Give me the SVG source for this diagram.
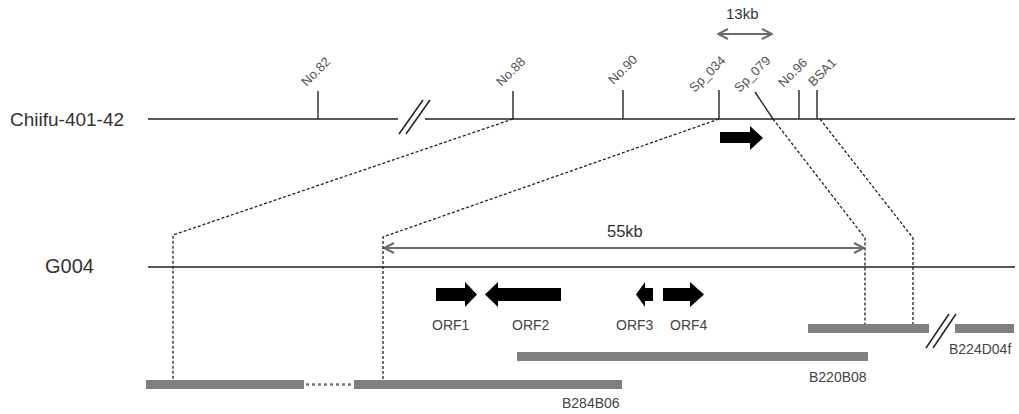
<svg xmlns="http://www.w3.org/2000/svg" width="1019" height="414" viewBox="0 0 1019 414">
<style>
text{font-family:"Liberation Sans",Arial,sans-serif;}
.big{font-size:19px;fill:#333;}
.lab{font-size:13px;fill:#555;}
.sm{font-size:14px;fill:#444;}
.kb{font-size:15px;fill:#333;}
.main{stroke:#222;stroke-width:1.5;fill:none;}
.tick{stroke:#333;stroke-width:1.5;fill:none;}
.dash{stroke:#222;stroke-width:1.3;fill:none;stroke-dasharray:3 2;}
.dot{stroke:#777;stroke-width:2.5;fill:none;stroke-dasharray:3 3;}
.bar{fill:#808080;}
.blk{fill:#000;}
.dim{stroke:#6a6a6a;stroke-width:2.2;fill:none;}
</style>
<defs>
<marker id="ah" viewBox="0 0 12 12" refX="11" refY="6" markerWidth="12" markerHeight="12" markerUnits="userSpaceOnUse" orient="auto-start-reverse">
<path d="M1,1 L11,6 L1,11" fill="none" stroke="#6a6a6a" stroke-width="2"/>
</marker>
</defs>
<g id="chiifu">
<text class="big" x="10" y="125.5">Chiifu-401-42</text>
<line class="main" x1="148" y1="119" x2="398" y2="119"/>
<line class="main" x1="425" y1="119" x2="1015" y2="119"/>
<line class="main" x1="399" y1="134" x2="423" y2="100"/>
<line class="main" x1="406" y1="134" x2="430" y2="100"/>
</g>
<g id="g004">
<text class="big" x="45" y="273" style="font-size:20px">G004</text>
<line class="main" x1="148" y1="267" x2="1015" y2="267"/>
</g>
<g id="markers">
<line class="tick" x1="318" y1="91" x2="318" y2="119"/>
<text class="lab" transform="translate(306.6,87) rotate(-45)">No.82</text>
<line class="tick" x1="513" y1="91" x2="513" y2="119"/>
<text class="lab" transform="translate(501.6,87) rotate(-45)">No.88</text>
<line class="tick" x1="623" y1="90" x2="623" y2="119"/>
<text class="lab" transform="translate(613.6,85) rotate(-45)">No.90</text>
<line class="tick" x1="719" y1="90" x2="719" y2="119"/>
<text class="lab" transform="translate(694.6,93) rotate(-45)">Sp_034</text>
<line class="tick" x1="755" y1="92" x2="773" y2="119"/>
<text class="lab" transform="translate(739.6,93) rotate(-45)">Sp_079</text>
<line class="tick" x1="799" y1="90" x2="799" y2="119"/>
<text class="lab" transform="translate(783.6,88) rotate(-45)">No.96</text>
<line class="tick" x1="817" y1="90" x2="817" y2="119"/>
<text class="lab" transform="translate(813.6,87) rotate(-45)">BSA1</text>
</g>
<g id="dim13">
<line class="dim" x1="718" y1="34" x2="772" y2="34" marker-start="url(#ah)" marker-end="url(#ah)"/>
<text class="kb" x="726" y="19">13kb</text>
</g>
<g id="dim55">
<line class="dim" x1="384" y1="248" x2="864" y2="248" marker-start="url(#ah)" marker-end="url(#ah)"/>
<text class="kb" x="607" y="237" style="font-size:16.5px">55kb</text>
</g>
<g id="gene-chiifu">
<polygon class="blk" points="720,132 750,132 750,126 763,138 750,150 750,143 720,143"/>
</g>
<g id="orf1">
<polygon class="blk" points="436,288 465,288 465,282 477,294.5 465,307 465,301 436,301"/>
<text class="sm" x="432" y="330">ORF1</text>
</g>
<g id="orf2">
<polygon class="blk" points="561,288 498,288 498,282 485,294.5 498,307 498,301 561,301"/>
<text class="sm" x="512" y="330">ORF2</text>
</g>
<g id="orf3">
<polygon class="blk" points="653,288 645,288 645,282 636,294.5 645,307 645,301 653,301"/>
<text class="sm" x="616" y="330">ORF3</text>
</g>
<g id="orf4">
<polygon class="blk" points="663,288 690,288 690,282 704,294.5 690,307 690,301 663,301"/>
<text class="sm" x="670" y="330">ORF4</text>
</g>
<g id="B284B06">
<rect class="bar" x="146" y="380" width="158" height="9"/>
<rect class="bar" x="354" y="380" width="268" height="9"/>
<line class="dot" x1="306" y1="384.5" x2="353" y2="384.5"/>
<text class="sm" x="562" y="408">B284B06</text>
</g>
<g id="B220B08">
<rect class="bar" x="517" y="352" width="351" height="9"/>
<text class="sm" x="809" y="382">B220B08</text>
</g>
<g id="B224D04f">
<rect class="bar" x="808" y="324" width="121" height="9"/>
<rect class="bar" x="955" y="324" width="59" height="9"/>
<line class="main" x1="926" y1="348" x2="949" y2="314"/>
<line class="main" x1="933" y1="348" x2="956" y2="314"/>
<text class="sm" x="949" y="354">B224D04f</text>
</g>
<g id="connectors">
<polyline class="dash" points="513,119 173,235 173,380"/>
<polyline class="dash" points="719,119 383,237 383,380"/>
<polyline class="dash" points="773,119 865,238 865,324"/>
<polyline class="dash" points="820,119 913,238 913,324"/>
</g>
</svg>
